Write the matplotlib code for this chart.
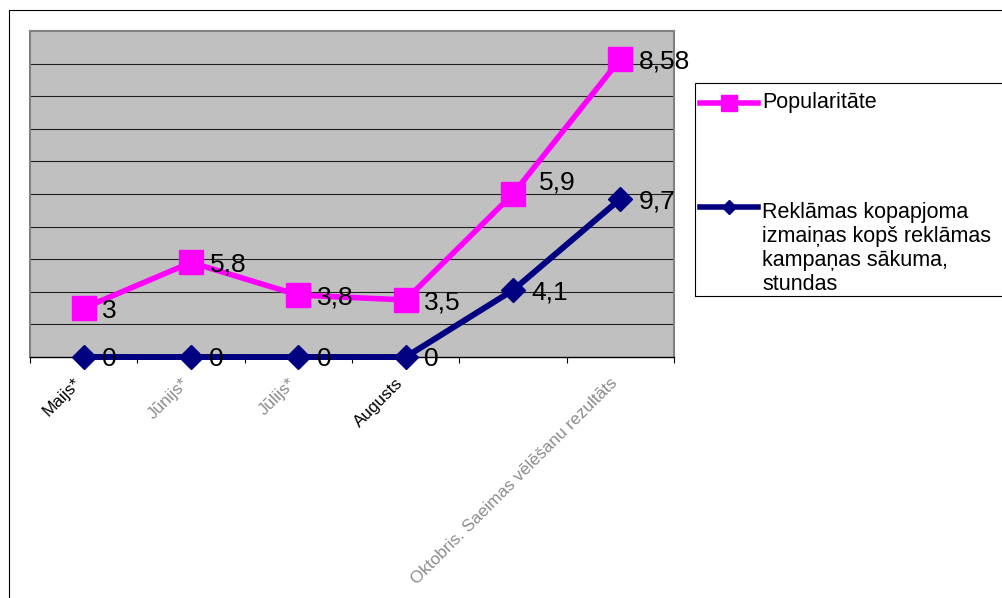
import numpy as np
import matplotlib.pyplot as plt
from matplotlib.lines import Line2D
from matplotlib.patches import Rectangle
from matplotlib.transforms import ScaledTranslation

# === Dati ===
months = ["Maijs*", "Jūnijs*", "Jūlijs*", "Augusts", "",
          "Oktobris. Saeimas vēlēšanu rezultāts"]
popularitate = [3, 5.8, 3.8, 3.5, 5.9, 8.58]
reklama = [0, 0, 0, 0, 4.1, 9.7]
names = ["Popularitāte",
         "Reklāmas kopapjoma\nizmaiņas kopš reklāmas\nkampaņas sākuma,\nstundas"]
faded = [1, 2, 5]  # pelēkie kategoriju nosaukumi

pink = '#ff00ff'
navy = '#000080'

W, H = 1003, 598
plt.rcParams['font.family'] = ['Liberation Sans', 'DejaVu Sans']

fig = plt.figure(figsize=(W / 100, H / 100), dpi=100)


def fx(px):
    return px / W


def fy(px):
    return 1 - px / H


ax = fig.add_axes([fx(30), fy(357), (674 - 30) / W, (357 - 31) / H])
ax.set_facecolor('#c0c0c0')

x = np.arange(len(months))
# stacked line chart: Popularitāte drawn on top of the other series
stacked = np.array(reklama) + np.array(popularitate)

ax.plot(x, stacked, color=pink, lw=4, marker='s', ms=17.5, zorder=3, clip_on=False)
ax.plot(x, reklama, color=navy, lw=4.3, marker='D', ms=12.5, zorder=4, clip_on=False)


def fmt(v):
    return f"{v:g}".replace('.', ',')


for i in x:
    dx, dy = 13.3, 0
    if i == 4:
        dx, dy = 18.4, 10
    ax.annotate(fmt(popularitate[i]), (i, stacked[i]), xytext=(dx, dy),
                textcoords='offset points', ha='left', va='center_baseline',
                fontsize=19, zorder=6, annotation_clip=False)
    ax.annotate(fmt(reklama[i]), (i, reklama[i]), xytext=(13.3, 0),
                textcoords='offset points', ha='left', va='center_baseline',
                fontsize=19, zorder=6, annotation_clip=False)

ax.set_xlim(-0.5, 5.5)
ax.set_ylim(0, 20)
ax.set_yticks(np.arange(2, 20, 2))
ax.yaxis.grid(True, color='#202020', lw=0.8)
ax.set_axisbelow(True)
ax.tick_params(axis='y', length=0, labelleft=False)

ax.set_xticks(np.arange(-0.5, 6, 1))
ax.set_xticklabels([])
ax.tick_params(axis='x', which='major', direction='out', length=4, width=0.8)
ax.set_xticks(x, minor=True)
ax.set_xticklabels(months, minor=True, rotation=45, ha='right',
                   rotation_mode='anchor', va='center', fontsize=12.3)
ax.tick_params(axis='x', which='minor', length=0, pad=14)
offset = ScaledTranslation(-5 / 100, -4 / 100, fig.dpi_scale_trans)
for i, lab in enumerate(ax.get_xticklabels(minor=True)):
    lab.set_transform(lab.get_transform() + offset)
    if i in faded:
        lab.set_color('#8c8c8c')

for s in ['top', 'left', 'right']:
    ax.spines[s].set_color('#808080')
    ax.spines[s].set_linewidth(1.5)
ax.spines['bottom'].set_color('black')
ax.spines['bottom'].set_linewidth(1)

# chart area frame
fig.patches.append(Rectangle((fx(9), -0.05), 1, fy(10) + 0.05,
                             transform=fig.transFigure, fill=False,
                             ec='black', lw=0.8))

# === Leģenda ===
fig.patches.append(Rectangle((fx(695), fy(296)), 1, (296 - 83) / H,
                             transform=fig.transFigure, fill=False,
                             ec='black', lw=0.8))
for col, mk, ms, ly in [(pink, 's', 11, 103), (navy, 'D', 7, 207)]:
    fig.lines.append(Line2D([fx(700), fx(758)], [fy(ly), fy(ly)],
                            transform=fig.transFigure, color=col, lw=4))
    fig.lines.append(Line2D([fx(729)], [fy(ly)], transform=fig.transFigure,
                            color=col, marker=mk, ms=ms, lw=0))

fig.text(fx(762), fy(108), names[0], va='baseline', fontsize=15.5)
for k, line in enumerate(names[1].split('\n')):
    fig.text(fx(762), fy(218 + 24 * k), line, va='baseline', fontsize=15.5)

fig.savefig('out.png', dpi=100)
